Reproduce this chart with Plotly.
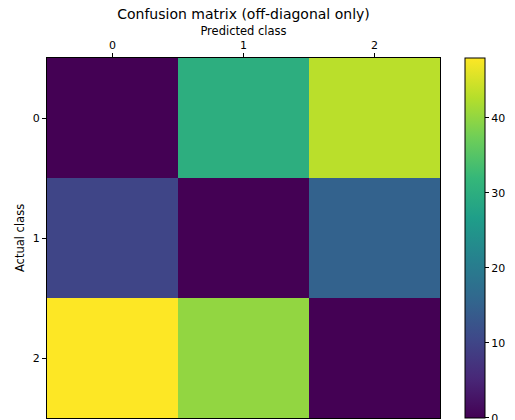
import plotly.graph_objects as go

# Class labels and misclassification counts (diagonal zeroed out)
classes = [0, 1, 2]
row_0 = [0, 30, 43]
row_1 = [10, 0, 15]
row_2 = [48, 40, 0]
counts = [row_0, row_1, row_2]
cbar_ticks = [0, 10, 20, 30, 40]

font_family = "DejaVu Sans"

fig = go.Figure(
    go.Heatmap(
        x=classes,
        y=classes,
        z=counts,
        colorscale="Viridis",
        zmin=-0.01,
        zmax=max(max(r) for r in counts),
        colorbar=dict(
            thickness=20,
            len=1,
            lenmode="fraction",
            y=0.5,
            yanchor="middle",
            x=1.0636,
            xanchor="left",
            xpad=0,
            ypad=0,
            outlinecolor="black",
            outlinewidth=1,
            tickvals=cbar_ticks,
            ticks="outside",
            ticklen=4,
            tickcolor="black",
            ticklabeloverflow="allow",
            tickfont=dict(family=font_family, size=11, color="black"),
        ),
        hoverongaps=False,
    )
)

axis_common = dict(
    showline=True,
    linecolor="black",
    linewidth=1,
    mirror=True,
    ticks="outside",
    ticklen=4,
    tickcolor="black",
    showgrid=False,
    zeroline=False,
    tickfont=dict(family=font_family, size=11, color="black"),
    tickvals=classes,
)

fig.update_layout(
    width=515,
    height=420,
    margin=dict(l=47, r=75, t=58, b=2),
    plot_bgcolor="white",
    paper_bgcolor="white",
    font=dict(family=font_family, color="black"),
    title=dict(
        text="Confusion matrix (off-diagonal only)",
        x=0.5,
        xref="paper",
        xanchor="center",
        y=1 - 14 / 420,
        yanchor="middle",
        font=dict(family=font_family, size=14, color="black"),
    ),
    xaxis=dict(
        side="top",
        title=dict(text="Predicted class", standoff=0,
                   font=dict(family=font_family, size=11.5, color="black")),
        range=[-0.5, 2.5],
        **axis_common,
    ),
    yaxis=dict(
        title=dict(text="Actual class", standoff=5,
                   font=dict(family=font_family, size=11.5, color="black")),
        range=[2.5, -0.5],
        **axis_common,
    ),
)

fig.write_html("out.html")
